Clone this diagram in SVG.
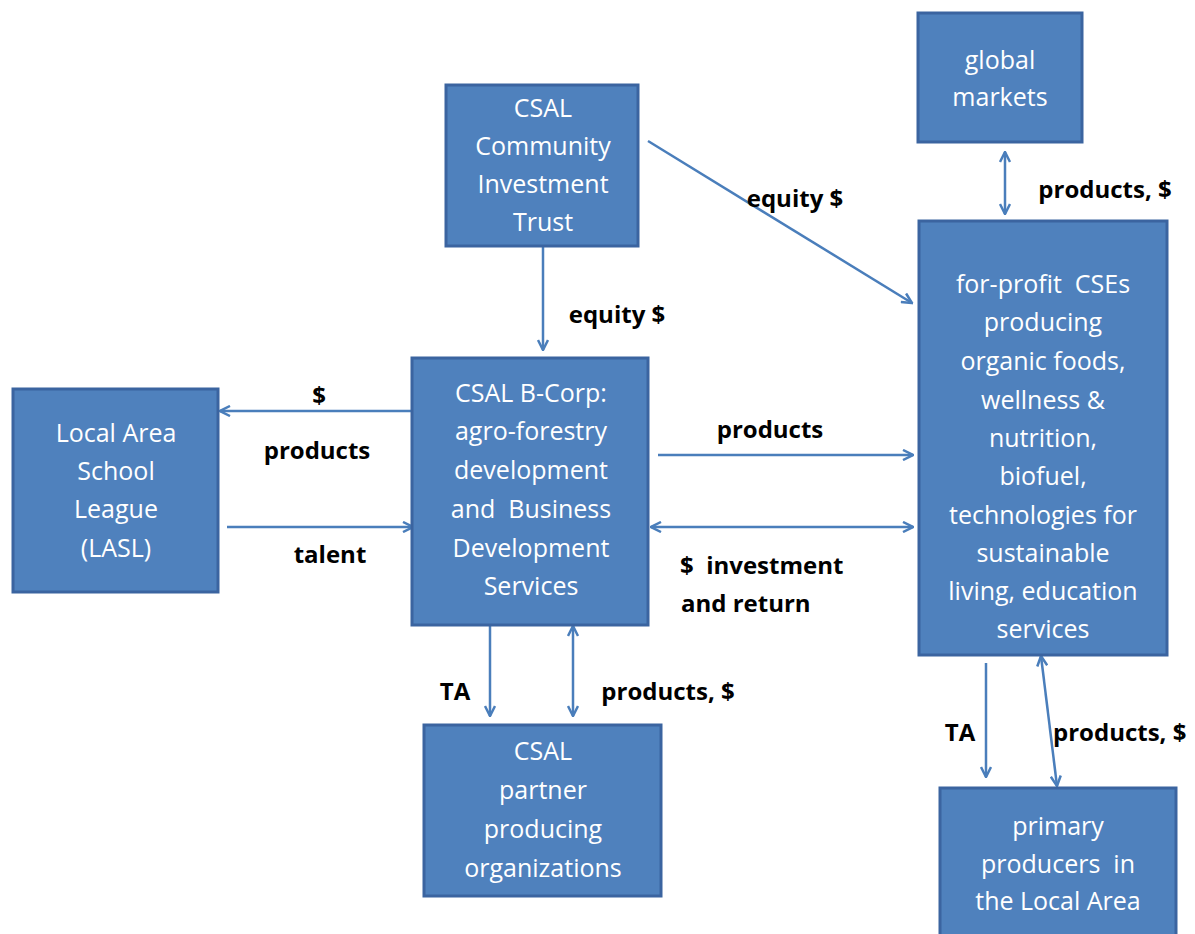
<svg xmlns="http://www.w3.org/2000/svg" width="1195" height="934" viewBox="0 0 1195 934">
<style>
.box{fill:#4f81bd;stroke:#3b64a0;stroke-width:3}
.t{font-family:"Open Sans",Lato,sans-serif;font-size:25px;fill:#ffffff;text-anchor:middle;white-space:pre}
.l{font-family:"Open Sans","Liberation Sans",sans-serif;font-size:24px;font-weight:bold;fill:#000000;white-space:pre}
.c{stroke:#4a7ebb;stroke-width:2.5;fill:none}
</style>
<defs>
<marker id="a" viewBox="0 0 10 10" refX="9" refY="5" markerWidth="5" markerHeight="5" orient="auto-start-reverse" markerUnits="strokeWidth">
<path d="M1,1 L9,5 L1,9" fill="none" stroke="#4a7ebb" stroke-width="2"/>
</marker>
</defs>
<rect width="1195" height="934" fill="#ffffff"/>
<g id="connectors">
<line class="c" x1="648" y1="141" x2="912" y2="303" marker-end="url(#a)"/>
<line class="c" x1="543" y1="247" x2="543" y2="350" marker-end="url(#a)"/>
<line class="c" x1="412" y1="411" x2="220" y2="411" marker-end="url(#a)"/>
<line class="c" x1="227" y1="527" x2="413" y2="527" marker-end="url(#a)"/>
<line class="c" x1="658" y1="455" x2="913" y2="455" marker-end="url(#a)"/>
<line class="c" x1="651" y1="527" x2="913" y2="527" marker-start="url(#a)" marker-end="url(#a)"/>
<line class="c" x1="1005" y1="152" x2="1005" y2="214" marker-start="url(#a)" marker-end="url(#a)"/>
<line class="c" x1="490" y1="626" x2="490" y2="716" marker-end="url(#a)"/>
<line class="c" x1="573" y1="626" x2="573" y2="716" marker-start="url(#a)" marker-end="url(#a)"/>
<line class="c" x1="986" y1="663" x2="986" y2="777" marker-end="url(#a)"/>
<line class="c" x1="1041" y1="656" x2="1057" y2="786" marker-start="url(#a)" marker-end="url(#a)"/>
</g>
<g id="trust"><rect class="box" x="446" y="85" width="192" height="161"/>
<text class="t" x="543" y="117">CSAL</text><text class="t" x="543" y="155">Community</text><text class="t" x="543" y="193">Investment</text><text class="t" x="543" y="231">Trust</text></g>
<g id="global"><rect class="box" x="918" y="13" width="164" height="129"/>
<text class="t" x="1000" y="69">global</text><text class="t" x="1000" y="106">markets</text></g>
<g id="cses"><rect class="box" x="919" y="221" width="248" height="434"/>
<text class="t" x="1043" y="293">for-profit  CSEs</text><text class="t" x="1043" y="331">producing</text><text class="t" x="1043" y="370">organic foods,</text><text class="t" x="1043" y="409">wellness &amp;</text><text class="t" x="1043" y="447">nutrition,</text><text class="t" x="1043" y="485">biofuel,</text><text class="t" x="1043" y="524">technologies for</text><text class="t" x="1043" y="562">sustainable</text><text class="t" x="1043" y="600">living, education</text><text class="t" x="1043" y="638">services</text></g>
<g id="lasl"><rect class="box" x="13" y="389" width="205" height="203"/>
<text class="t" x="116" y="442">Local Area</text><text class="t" x="116" y="480">School</text><text class="t" x="116" y="518">League</text><text class="t" x="116" y="557">(LASL)</text></g>
<g id="bcorp"><rect class="box" x="412" y="358" width="236" height="267"/>
<text class="t" x="531" y="402">CSAL B-Corp:</text><text class="t" x="531" y="440">agro-forestry</text><text class="t" x="531" y="479">development</text><text class="t" x="531" y="518">and  Business</text><text class="t" x="531" y="557">Development</text><text class="t" x="531" y="595">Services</text></g>
<g id="partner"><rect class="box" x="424" y="725" width="237" height="171"/>
<text class="t" x="543" y="760">CSAL</text><text class="t" x="543" y="799">partner</text><text class="t" x="543" y="838">producing</text><text class="t" x="543" y="877">organizations</text></g>
<g id="primary"><rect class="box" x="940" y="788" width="236" height="150"/>
<text class="t" x="1058" y="835">primary</text><text class="t" x="1058" y="873">producers  in</text><text class="t" x="1058" y="910">the Local Area</text></g>
<g id="labels">
<text class="l" x="795" y="207" text-anchor="middle">equity $</text>
<text class="l" x="617" y="323" text-anchor="middle">equity $</text>
<text class="l" x="319" y="404" text-anchor="middle">$</text>
<text class="l" x="317" y="459" text-anchor="middle">products</text>
<text class="l" x="330" y="563" text-anchor="middle">talent</text>
<text class="l" x="770" y="438" text-anchor="middle">products</text>
<text class="l" x="680" y="574">$  investment</text>
<text class="l" x="681" y="612">and return</text>
<text class="l" x="455" y="700" text-anchor="middle">TA</text>
<text class="l" x="668" y="700" text-anchor="middle">products, $</text>
<text class="l" x="1105" y="198" text-anchor="middle">products, $</text>
<text class="l" x="960" y="741" text-anchor="middle">TA</text>
<text class="l" x="1053" y="741">products, $</text>
</g>
</svg>
